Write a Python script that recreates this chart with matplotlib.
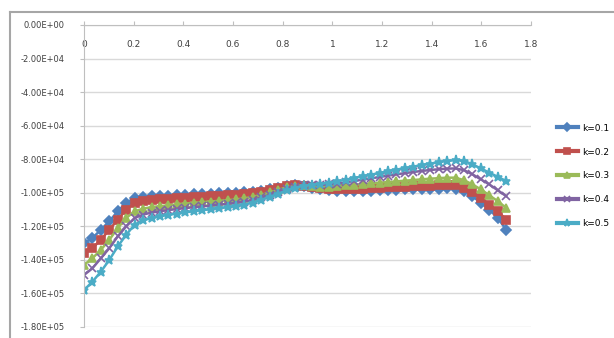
import matplotlib
matplotlib.use("Agg")
import matplotlib.pyplot as plt
from matplotlib.lines import Line2D
import numpy as np

# x positions of the samples (step 0.034 from 0 to 1.7)
x = [0.000, 0.034, 0.068, 0.102, 0.136, 0.170, 0.204, 0.238, 0.272, 0.306,
     0.340, 0.374, 0.408, 0.442, 0.476, 0.510, 0.544, 0.578, 0.612, 0.646,
     0.680, 0.714, 0.748, 0.782, 0.816, 0.850, 0.884, 0.918, 0.952, 0.986,
     1.020, 1.054, 1.088, 1.122, 1.156, 1.190, 1.224, 1.258, 1.292, 1.326,
     1.360, 1.394, 1.428, 1.462, 1.496, 1.530, 1.564, 1.598, 1.632, 1.666,
     1.700]

# values in thousands
k01 = [-130, -127, -122, -117, -111, -106, -103, -102.5, -102, -102,
       -101.8, -101.5, -101.3, -101, -100.8, -100.6, -100.4, -100.2, -100, -99.8,
       -99.4, -98.8, -98, -97, -96, -95.5, -96, -97, -98, -98.5,
       -99, -99, -99, -99, -98.8, -98.6, -98.4, -98.2, -98, -98,
       -97.8, -97.6, -97.5, -97.4, -97.5, -99, -102, -106, -110, -115,
       -122]
k02 = [-136, -133, -128, -122, -116, -110, -106, -105, -104.5, -104,
       -103.6, -103.2, -103, -102.7, -102.4, -102.1, -101.8, -101.5, -101.2, -100.8,
       -100.2, -99.4, -98.4, -97.3, -96.2, -95.5, -95.8, -96.5, -97.2, -97.6,
       -97.8, -97.8, -97.7, -97.5, -97.3, -97, -96.8, -96.6, -96.4, -96.2,
       -96, -95.8, -95.6, -95.5, -95.6, -97, -99.5, -103, -107, -111,
       -116]
k03 = [-143, -139, -134, -128, -121, -115, -111, -109.5, -108.5, -108,
       -107.4, -106.9, -106.4, -106, -105.6, -105.2, -104.8, -104.4, -104, -103.3,
       -102.4, -101.2, -99.8, -98.2, -96.8, -95.8, -95.6, -96, -96.3, -96.3,
       -96, -95.6, -95.2, -94.8, -94.4, -94, -93.6, -93.2, -92.8, -92.4,
       -92, -91.6, -91.3, -91, -91, -92.5, -95, -98, -101.5, -105,
       -109]
k04 = [-149, -145, -139, -133, -126, -120, -115, -113, -111.8, -111,
       -110.3, -109.7, -109.1, -108.6, -108.1, -107.6, -107.1, -106.6, -106, -105.2,
       -104.2, -102.8, -101.2, -99.5, -97.8, -96.4, -95.6, -95.4, -95.3, -95,
       -94.5, -93.8, -93, -92.2, -91.4, -90.6, -89.8, -89, -88.3, -87.6,
       -87, -86.4, -86, -85.6, -85.5, -86.5, -89, -92, -95, -98.5,
       -102]
k05 = [-158, -153, -147, -140, -132, -125, -119, -116.5, -115, -114,
       -113.2, -112.4, -111.7, -111, -110.4, -109.8, -109.2, -108.6, -108, -107,
       -105.8, -104.2, -102.4, -100.5, -98.6, -97, -95.8, -95.2, -94.7, -94,
       -93.2, -92.2, -91.2, -90.2, -89.2, -88.2, -87.2, -86.2, -85.3, -84.4,
       -83.5, -82.6, -81.8, -81, -80.6, -81, -83, -85.5, -88, -90.5,
       -93]

labels = ["k=0.1", "k=0.2", "k=0.3", "k=0.4", "k=0.5"]
colors = ["#4F81BD", "#C0504D", "#9BBB59", "#8064A2", "#4BACC6"]
markers = ["D", "s", "^", "x", "*"]
msizes = [5, 5.5, 5.5, 5.5, 6.5]
series = [k01, k02, k03, k04, k05]

xticks = [0, 0.2, 0.4, 0.6, 0.8, 1, 1.2, 1.4, 1.6, 1.8]
xticklabels = ["0", "0.2", "0.4", "0.6", "0.8", "1", "1.2", "1.4", "1.6", "1.8"]
yticks = [0, -2e4, -4e4, -6e4, -8e4, -1e5, -1.2e5, -1.4e5, -1.6e5, -1.8e5]
yticklabels = ["0.00E+00", "-2.00E+04", "-4.00E+04", "-6.00E+04", "-8.00E+04",
               "-1.00E+05", "-1.20E+05", "-1.40E+05", "-1.60E+05", "-1.80E+05"]

fig = plt.figure(figsize=(6.14, 3.38), dpi=100)
ax = fig.add_axes([84/614, 1-327/338, (531-84)/614, (327-25)/338])

for vals, lab, c, m, ms in zip(series, labels, colors, markers, msizes):
    ax.plot(x, np.array(vals)*1000, color=c, marker=m, markersize=ms,
            linewidth=1.8, label=lab, markeredgewidth=1.2)

ax.set_xlim(0, 1.8)
ax.set_ylim(-1.8e5, 0)
ax.set_yticks(yticks)
ax.set_yticklabels(yticklabels)
ax.set_xticks(xticks)
ax.set_xticklabels(xticklabels)

ax.grid(axis="y", color="#d9d9d9", linewidth=1)
ax.set_axisbelow(True)
for s in ["top", "right"]:
    ax.spines[s].set_visible(False)
ax.spines["bottom"].set_position(("data", 0))
ax.spines["bottom"].set_color("#bfbfbf")
ax.spines["left"].set_color("#bfbfbf")
ax.tick_params(axis="x", direction="in", length=3, color="#bfbfbf",
               labelsize=6.5, pad=11, labelcolor="#404040")
ax.tick_params(axis="y", direction="out", length=3, color="#bfbfbf",
               labelsize=6, pad=11, labelcolor="#404040")

leg = ax.legend(loc="upper left", bbox_to_anchor=(553/614, 1-120/338),
                bbox_transform=fig.transFigure, frameon=False, fontsize=6.5,
                handlelength=2.4, labelspacing=1.65, handletextpad=0.4,
                borderaxespad=0, markerscale=0.85)
for ln in leg.get_lines():
    ln.set_linewidth(3)

# outer chart frame (cropped at right/bottom)
fig.add_artist(Line2D([10/614, 10/614], [0, 1-12/338], transform=fig.transFigure,
                      color="#a6a6a6", linewidth=1.5))
fig.add_artist(Line2D([10/614, 1], [1-12/338, 1-12/338], transform=fig.transFigure,
                      color="#a6a6a6", linewidth=1.5))

fig.savefig("out.png", dpi=100)
